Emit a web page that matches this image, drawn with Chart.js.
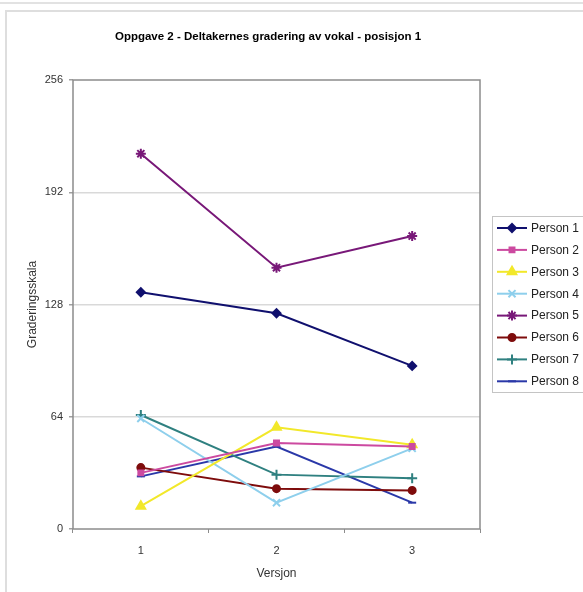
<!DOCTYPE html>
<html>
<head>
<meta charset="utf-8">
<script src="https://cdn.jsdelivr.net/npm/chart.js@4/dist/chart.umd.min.js"></script>
<style>
  html, body { margin: 0; padding: 0; background: #fff; }
  body { width: 583px; height: 592px; position: relative; overflow: hidden; }
  .topbar { position: absolute; left: 0; top: 0; width: 583px; height: 2px; border-bottom: 2px solid #e2e2e2; }
  .frame { position: absolute; left: 5px; top: 10px; width: 640px; height: 640px;
           border-left: 2px solid #dedede; border-top: 2px solid #dedede; }
  #chart { position: absolute; left: 0; top: 0; }
</style>
</head>
<body>
<div class="topbar"></div>
<div class="frame"></div>
<canvas id="chart" width="583" height="592"></canvas>
<script>
const chartTitle = "Oppgave 2 - Deltakernes gradering av vokal - posisjon 1";
const versions = ["1", "2", "3"];
const yTicks = [0, 64, 128, 192, 256];

const person1 = [135, 123, 93];
const person2 = [32, 49, 47];
const person3 = [13, 58, 48];
const person4 = [63, 15, 46];
const person5 = [214, 149, 167];
const person6 = [35, 23, 22];
const person7 = [65, 31, 29];
const person8 = [30, 47, 15];

const series = [
    { label: "Person 1", data: person1, color: "#10106e", style: "rectRot", r: 4 },
    { label: "Person 2", data: person2, color: "#cc4aa0", style: "rect", r: 3.5 },
    { label: "Person 3", data: person3, color: "#f2e82a", style: "triangle", r: 5 },
    { label: "Person 4", data: person4, color: "#8ecfec", style: "crossRot", r: 5 },
    { label: "Person 5", data: person5, color: "#781878", style: "star", r: 5 },
    { label: "Person 6", data: person6, color: "#7e0c0c", style: "circle", r: 3.5 },
    { label: "Person 7", data: person7, color: "#2f8080", style: "cross", r: 5 },
    { label: "Person 8", data: person8, color: "#2a38a8", style: "line", r: 4 },
];

const font = "'Liberation Sans', Arial, sans-serif";

// title centred over the whole chart box, border around the plot area
const plotFrame = {
    id: "plotFrame",
    afterDatasetsDraw(chart) {
        const { ctx, chartArea: a } = chart;
        ctx.save();
        ctx.strokeStyle = "#8c8c8c";
        ctx.lineWidth = 1.5;
        ctx.strokeRect(a.left, a.top, a.right - a.left, a.bottom - a.top);
        ctx.fillStyle = "#000";
        ctx.font = "bold 11.5px " + font;
        ctx.textAlign = "center";
        ctx.textBaseline = "middle";
        ctx.fillText(chartTitle, 268, 37);
        ctx.restore();
    }
};

// legend box on the right, line + marker per series
const sideLegend = {
    id: "sideLegend",
    afterDraw(chart) {
        const ctx = chart.ctx;
        const x0 = 492, y0 = 216, w = 110, h = 176;
        ctx.save();
        ctx.strokeStyle = "#c4c4c4";
        ctx.lineWidth = 1;
        ctx.strokeRect(x0 + 0.5, y0 + 0.5, w, h);
        ctx.font = "12px " + font;
        ctx.textBaseline = "middle";
        chart.data.datasets.forEach((ds, i) => {
            const y = 228 + i * 21.9;
            ctx.strokeStyle = ds.borderColor;
            ctx.fillStyle = ds.borderColor;
            ctx.lineWidth = 2;
            ctx.beginPath();
            ctx.moveTo(497, y);
            ctx.lineTo(527, y);
            ctx.stroke();
            Chart.helpers.drawPoint(ctx, {
                pointStyle: ds.pointStyle,
                radius: ds.pointRadius,
                borderWidth: 2,
                rotation: 0
            }, 512, y);
            ctx.fillStyle = "#222";
            ctx.fillText(ds.label, 531, y + 0.5);
        });
        ctx.restore();
    }
};

new Chart(document.getElementById("chart").getContext("2d"), {
    type: "line",
    data: {
        labels: versions,
        datasets: series.map(s => ({
            label: s.label,
            data: s.data,
            borderColor: s.color,
            backgroundColor: s.color,
            borderWidth: 2,
            pointStyle: s.style,
            pointRadius: s.r,
            pointBorderWidth: 2,
            pointHoverRadius: s.r,
            tension: 0,
        })),
    },
    options: {
        responsive: false,
        animation: false,
        devicePixelRatio: 1,
        layout: { padding: { left: 25, right: 103, top: 80, bottom: 11 } },
        plugins: {
            legend: { display: false },
            tooltip: { enabled: false },
        },
        scales: {
            x: {
                offset: true,
                grid: { offset: true, drawOnChartArea: false, color: "#8c8c8c", tickLength: 4 },
                border: { display: false },
                ticks: { color: "#333", padding: 11, font: { family: font, size: 11 } },
                title: {
                    display: true,
                    text: "Versjon",
                    color: "#333",
                    padding: 0,
                    font: { family: font, size: 12 },
                },
                afterFit: scale => { scale.height = 52; },
            },
            y: {
                min: 0,
                max: 256,
                afterBuildTicks: scale => { scale.ticks = yTicks.map(v => ({ value: v })); },
                grid: {
                    color: ctx => (ctx.tick && (ctx.tick.value === 0 || ctx.tick.value === 256)) ? "rgba(0,0,0,0)" : "#d9d9d9",
                    lineWidth: 1.5,
                    tickLength: 4,
                    tickColor: "#a0a0a0",
                },
                border: { display: false },
                ticks: { color: "#333", padding: 6, font: { family: font, size: 11 } },
                title: {
                    display: true,
                    text: "Graderingsskala",
                    color: "#333",
                    padding: 0,
                    font: { family: font, size: 12 },
                },
                afterFit: scale => { scale.width = 48; },
            },
        },
    },
    plugins: [plotFrame, sideLegend],
});
</script>
</body>
</html>
